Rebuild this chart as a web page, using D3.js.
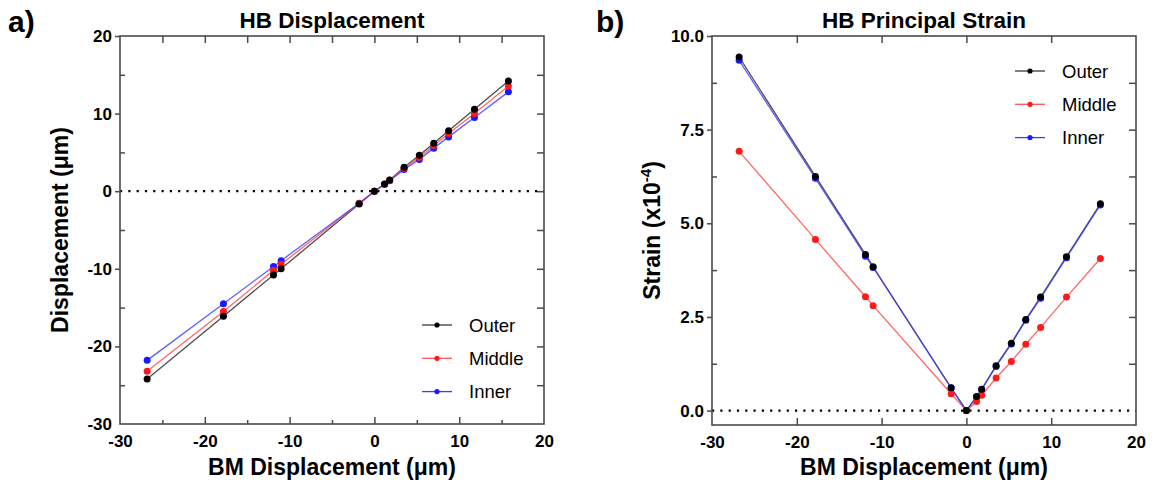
<!DOCTYPE html>
<html>
<head>
<meta charset="utf-8">
<script src="https://cdn.jsdelivr.net/npm/d3@7"></script>
<style>
  html, body { margin: 0; padding: 0; background: #fff; }
  svg { display: block; }
  text { font-family: "Liberation Sans", Arial, sans-serif; }
</style>
</head>
<body>
<svg id="chart" width="1155" height="483"></svg>
<script>
// ---------- data ----------
const bmDisplacement = [-26.8, -17.8, -11.9, -11.0, -1.8, 0, 1.2, 1.8, 3.5, 5.3, 7.0, 8.75, 11.8, 15.8];

const dispOuter  = [-24.2, -16.1, -10.8, -10.0, -1.65, 0, 0.93, 1.44, 3.08, 4.62, 6.17, 7.8, 10.55, 14.2];
const dispMiddle = [-23.2, -15.5, -10.2, -9.4, -1.6, 0, 0.9, 1.4, 2.95, 4.35, 5.9, 7.45, 10.0, 13.55];
const dispInner  = [-21.8, -14.5, -9.7, -8.95, -1.55, 0, 0.88, 1.35, 2.8, 4.1, 5.55, 7.0, 9.5, 12.8];

const strainOuter  = [9.44, 6.25, 4.17, 3.84, 0.61, 0, 0.375, 0.57, 1.2, 1.8, 2.43, 3.03, 4.11, 5.52];
const strainMiddle = [6.92, 4.57, 3.04, 2.8, 0.45, 0, 0.24, 0.41, 0.87, 1.31, 1.77, 2.22, 3.03, 4.06];
const strainInner  = [9.35, 6.2, 4.12, 3.82, 0.6, 0, 0.37, 0.56, 1.18, 1.78, 2.41, 3.0, 4.08, 5.49];

const seriesNames = ["Outer", "Middle", "Inner"];

const xTicks = [-30, -20, -10, 0, 10, 20];
const xMinorA = [-25, -15, -5, 5, 15];
const dispTicks = [-30, -20, -10, 0, 10, 20];
const dispMinor = [-25, -15, -5, 5, 15];
const strainTicks = [0, 2.5, 5, 7.5, 10];
const strainMinor = [1.25, 3.75, 6.25, 8.75];

// ---------- styles ----------
const lineColors = { Outer: "#3a3a3a", Middle: "#ff5555", Inner: "#3a3aff" };
const dotColors  = { Outer: "#000000", Middle: "#ff1a1a", Inner: "#1a1aff" };
const FONT = '"Liberation Sans", Arial, sans-serif';
const hyphen = f => (d => f(d).replace("\u2212", "-"));

const svg = d3.select("#chart");

function panel(opts) {
  const { left, right, top, bottom, yDomain, yTicks, yMinor, yFormat, xTop, xMinorBottom,
          rightTicks, data, title, panelLabel, panelX, yTitle, legend } = opts;
  const x = d3.scaleLinear().domain([-30, 20]).range([left, right]);
  const y = d3.scaleLinear().domain(yDomain).range([bottom, top]);
  const g = svg.append("g");

  // zero dotted line
  g.append("line")
    .attr("x1", x(-30)).attr("x2", x(20))
    .attr("y1", y(0)).attr("y2", y(0))
    .attr("stroke", "#000").attr("stroke-width", 2.2)
    .attr("stroke-dasharray", "2.2,6.1");

  // frame
  g.append("rect")
    .attr("x", left).attr("y", top)
    .attr("width", right - left).attr("height", bottom - top)
    .attr("fill", "none").attr("stroke", "#4a4a4a").attr("stroke-width", 1.6);

  const styleAxis = sel => {
    sel.select(".domain").remove();
    sel.selectAll(".tick line").attr("stroke", "#4a4a4a").attr("stroke-width", 1.5);
    sel.selectAll(".tick text").attr("fill", "#000")
      .style("font-family", FONT).style("font-weight", "bold").style("font-size", "17px");
  };

  // bottom axis: inward ticks
  g.append("g").attr("transform", `translate(0,${bottom})`)
    .call(d3.axisBottom(x).tickValues(xTicks).tickSizeInner(-7).tickSizeOuter(0).tickPadding(11)
      .tickFormat(hyphen(d3.format("d"))))
    .call(styleAxis)
    .call(s => s.selectAll(".tick").filter(d => d === -30 || d === 20).select("line").remove());
  if (xMinorBottom) {
    g.append("g").attr("transform", `translate(0,${bottom})`)
      .call(d3.axisBottom(x).tickValues(xMinorBottom).tickSizeInner(-4).tickSizeOuter(0).tickFormat(""))
      .call(styleAxis);
  }
  // top axis: inward ticks
  g.append("g").attr("transform", `translate(0,${top})`)
    .call(d3.axisTop(x).tickValues(xTop).tickSizeInner(-7).tickSizeOuter(0).tickFormat(""))
    .call(styleAxis);
  // left axis: outward major, inward minor
  g.append("g").attr("transform", `translate(${left},0)`)
    .call(d3.axisLeft(y).tickValues(yTicks).tickSizeInner(5).tickSizeOuter(0).tickPadding(3)
      .tickFormat(hyphen(yFormat)))
    .call(styleAxis)
    .call(s => s.selectAll(".tick").filter(d => d === yTicks[0] && yDomain[0] === yTicks[0]).select("line").remove());
  g.append("g").attr("transform", `translate(${left},0)`)
    .call(d3.axisLeft(y).tickValues(yMinor).tickSizeInner(-5).tickSizeOuter(0).tickFormat(""))
    .call(styleAxis);
  // right axis: inward ticks
  g.append("g").attr("transform", `translate(${right},0)`)
    .call(d3.axisRight(y).tickValues(rightTicks).tickSizeInner(-7).tickSizeOuter(0).tickFormat(""))
    .call(styleAxis);

  // lines
  const line = d3.line().x(d => x(d[0])).y(d => y(d[1]));
  seriesNames.forEach(name => {
    const pts = bmDisplacement.map((v, i) => [v, data[name][i]]);
    g.append("path").datum(pts)
      .attr("d", line).attr("fill", "none")
      .attr("stroke", lineColors[name]).attr("stroke-width", 1.3)
      .attr("stroke-opacity", name === "Inner" ? 0.8 : 0.9);
  });
  // points (inner first, outer on top)
  ["Inner", "Middle", "Outer"].forEach(name => {
    const pts = bmDisplacement.map((v, i) => [v, data[name][i]]);
    g.append("g").selectAll("circle").data(pts).join("circle")
      .attr("cx", d => x(d[0])).attr("cy", d => y(d[1])).attr("r", 3.5)
      .attr("fill", dotColors[name]);
  });

  // legend
  seriesNames.forEach((name, i) => {
    const ly = legend.y + i * legend.dy;
    g.append("line").attr("x1", legend.x).attr("x2", legend.x + 30)
      .attr("y1", ly).attr("y2", ly)
      .attr("stroke", lineColors[name]).attr("stroke-width", 1.3);
    g.append("circle").attr("cx", legend.x + 15).attr("cy", ly).attr("r", 2.6)
      .attr("fill", dotColors[name]);
    g.append("text").attr("x", legend.x + 47).attr("y", ly + 6.5)
      .style("font-size", "18.5px").attr("fill", "#000").text(name);
  });

  // title
  g.append("text").attr("x", (left + right) / 2).attr("y", 28)
    .attr("text-anchor", "middle").style("font-size", "22.5px").style("font-weight", "bold")
    .text(title);
  // panel label
  g.append("text").attr("x", panelX).attr("y", 32)
    .style("font-size", "30px").style("font-weight", "bold").text(panelLabel);
  // x title
  g.append("text").attr("x", (left + right) / 2).attr("y", 475)
    .attr("text-anchor", "middle").style("font-size", "23px").style("font-weight", "bold")
    .text("BM Displacement (\u03bcm)");
  // y title
  const yt = g.append("text")
    .attr("transform", `translate(${yTitle.x},${(top + bottom) / 2}) rotate(-90)`)
    .attr("text-anchor", "middle").style("font-size", "23px").style("font-weight", "bold");
  yTitle.build(yt);
}

panel({
  left: 120, right: 544, top: 36, bottom: 424,
  yDomain: [-30, 20], yTicks: dispTicks, yMinor: dispMinor, yFormat: d3.format("d"),
  xTop: [-25, -20, -15, -10, -5, 0, 5, 10, 15], xMinorBottom: xMinorA,
  rightTicks: [-25, -20, -15, -10, -5, 0, 5, 10, 15],
  data: { Outer: dispOuter, Middle: dispMiddle, Inner: dispInner },
  title: "HB Displacement", panelLabel: "a)", panelX: 8,
  legend: { x: 422, y: 325, dy: 33.3 },
  yTitle: { x: 68, build: t => t.text("Displacement (\u03bcm)") }
});

panel({
  left: 712, right: 1136, top: 36, bottom: 425,
  yDomain: [-0.385, 10], yTicks: strainTicks, yMinor: strainMinor, yFormat: d3.format(".1f"),
  xTop: [-20, -10, 0, 10], xMinorBottom: null,
  rightTicks: [1.25, 2.5, 3.75, 5, 6.25, 7.5, 8.75],
  data: { Outer: strainOuter, Middle: strainMiddle, Inner: strainInner },
  title: "HB Principal Strain", panelLabel: "b)", panelX: 596,
  legend: { x: 1015, y: 71, dy: 33.3 },
  yTitle: { x: 660, build: t => {
    t.append("tspan").text("Strain (x10");
    t.append("tspan").attr("dy", -9).style("font-size", "15px").text("-4");
    t.append("tspan").attr("dy", 9).text(")");
  } }
});
</script>
</body>
</html>
